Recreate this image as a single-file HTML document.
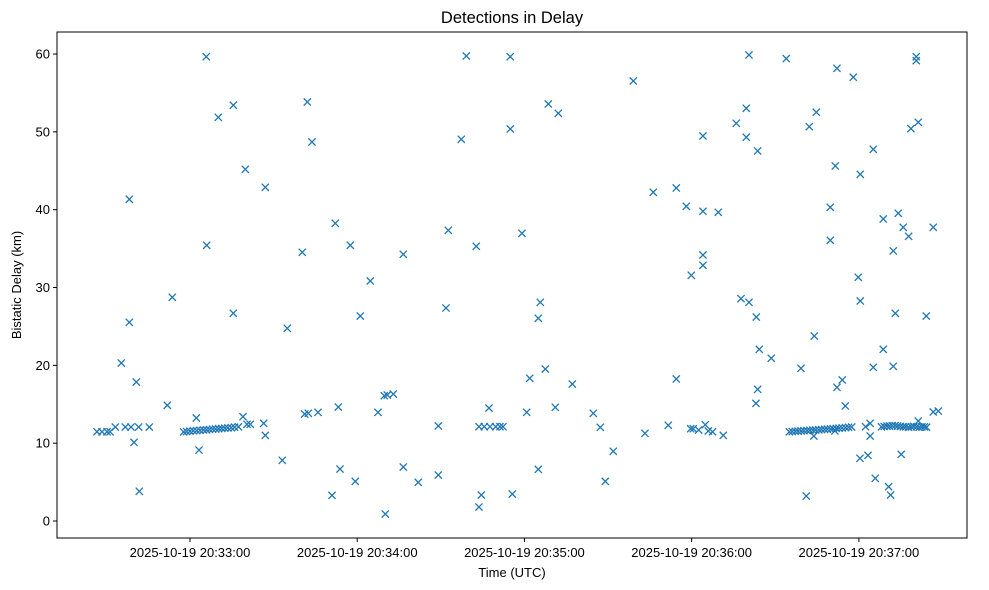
<!DOCTYPE html>
<html><head><meta charset="utf-8"><style>
body{margin:0;background:#fff;}
svg{display:block;font-family:"Liberation Sans","DejaVu Sans",sans-serif;}
</style></head><body>
<svg id="chart" width="989" height="590"></svg>
<script>
// seconds after 20:33:00 UTC
const times = [5.85,15.54,10.15,19.84,27.02,-21.78,5.99,-6.35,15.54,34.91,-21.78,-24.65,-19.27,-8.14,2.26,
-33.37,-31.57,-29.78,-28.7,-26.8,-23.21,-21.17,-18.41,-14.6,-20.09,3.23,-18.19,
-2.3,-1.2,0,1.2,2.4,3.6,4.8,5.9,7,8.1,9.2,10.3,11.4,12.5,13.6,14.8,16,17.4,
19.02,20.45,21.64,26.44,27.02,33.12,
42.09,43.77,99.14,114.92,97.34,114.92,52.13,40.29,57.52,76.53,64.69,61.1,92.68,102.72,119.12,91.85,
69.71,70.79,72.94,41.15,42.45,45.93,53.21,67.45,89.09,107.28,103.69,105.59,107.64,109.69,111.23,112.31,
120.81,121.9,53.82,59.31,50.95,76.53,81.91,89.09,70.07,104.52,103.69,115.64,
200.57,159.06,128.56,132.15,199.6,196.01,184.06,199.6,203.69,166.23,174.48,178.07,184.06,189.55,184.06,184.06,179.87,
125.69,124.97,197.7,200.57,203.19,204.27,127.48,137.17,174.48,131.07,144.71,147.22,151.88,124.97,149.01,163.25,171.61,
179.65,180.58,182.52,184.88,185.96,187.5,191.35,203.69,203.08,
213.95,232.14,237.99,260.59,260.59,224.72,222.2,258.69,261.31,245.17,231.54,240.5,229.74,248.75,254.13,255.92,257.86,266.69,
252.34,229.74,239.78,240.5,253.06,264.18,224.0,208.56,248.75,219.23,245.17,252.34,234.05,232.14,235.12,266.69,268.49,
215.05,216.1,217.2,218.2,219.3,220.3,221.4,222.4,223.5,224.5,225.6,226.6,227.7,228.7,229.8,230.8,231.9,232.9,234.0,235.2,236.3,237.42,
223.87,231.4,242.4,244.05,244.05,
248.1,249.1,250.1,251.0,252.0,253.0,253.9,254.9,255.9,256.8,257.8,258.8,259.7,260.7,261.7,262.6,263.5,264.3,
261.31,240.39,243.27,255.2,245.89,250.69,251.4,221.12];
// bistatic delay in km
const delays = [59.66,53.42,51.87,45.19,42.88,41.34,35.43,28.75,26.69,24.76,25.53,20.3,17.86,14.87,13.24,
11.47,11.47,11.47,11.47,12.08,12.08,12.08,12.08,12.08,10.11,9.12,3.82,
11.45,11.5,11.55,11.6,11.62,11.66,11.7,11.72,11.76,11.8,11.83,11.86,11.9,11.93,11.96,12.0,12.05,12.1,
13.4,12.43,12.43,12.55,11.01,7.8,
53.84,48.7,59.75,59.66,49.05,50.37,38.25,34.53,35.43,34.27,30.84,26.34,37.35,35.3,36.97,27.37,
16.1,16.19,16.32,13.75,13.84,13.97,14.65,13.97,12.21,14.52,12.12,12.12,12.12,12.12,12.12,12.12,
13.97,18.34,6.68,5.1,3.3,6.94,4.97,5.91,0.9,3.34,1.8,3.47,
59.88,56.54,53.58,52.39,53.03,51.1,49.47,49.31,47.55,42.24,42.79,40.44,39.8,39.67,34.18,32.86,31.57,
28.1,26.05,28.57,28.1,26.21,22.06,19.53,17.6,18.25,14.61,13.84,12.04,8.96,6.64,5.1,11.27,12.3,
11.86,11.86,11.69,12.37,11.57,11.47,11.01,16.92,15.12,
59.41,58.17,57.02,59.66,59.15,52.52,50.67,50.41,51.23,47.76,45.62,44.55,40.31,38.81,39.54,37.74,36.58,37.74,
34.7,36.07,31.32,28.27,26.69,26.34,23.77,20.91,22.06,19.62,19.75,19.88,18.12,17.18,14.78,14.01,14.13,
11.47,11.5,11.52,11.55,11.58,11.6,11.62,11.65,11.68,11.7,11.72,11.75,11.78,11.8,11.83,11.86,11.9,11.93,11.96,12.0,12.04,12.08,
10.92,11.57,12.12,12.55,10.92,
12.1,12.15,12.2,12.2,12.25,12.25,12.2,12.15,12.1,12.1,12.05,12.1,12.15,12.1,12.05,12.1,12.1,12.05,
12.85,8.06,8.44,8.57,5.49,4.41,3.34,3.21];
const yTicks = [0,10,20,30,40,50,60];
const xTicks = [0,60,120,180,240];
const xTickLabels = ["2025-10-19 20:33:00","2025-10-19 20:34:00","2025-10-19 20:35:00","2025-10-19 20:36:00","2025-10-19 20:37:00"];

const svg = document.getElementById('chart');
const NS = 'http://www.w3.org/2000/svg';
const L=57,R=967,T=32,B=538;
const xMin=-47.72,xMax=278.8,yMin=-2.18,yMax=62.83;
const xs = v => L + (v-xMin)/(xMax-xMin)*(R-L);
const ys = v => B - (v-yMin)/(yMax-yMin)*(B-T);
function mk(tag, attrs){const e=document.createElementNS(NS,tag);for(const k in attrs)e.setAttribute(k,attrs[k]);svg.appendChild(e);return e;}

const title = mk('text',{x:512,y:23,'text-anchor':'middle','font-size':'16.5'});
title.textContent='Detections in Delay';



const pts = mk('g',{});


for(let i=0;i<times.length;i++){
  const cx=xs(times[i]), cy=ys(delays[i]), r=3.6;
  const p=document.createElementNS(NS,'path');
  p.setAttribute('d',`M${cx-r},${cy-r}L${cx+r},${cy+r}M${cx-r},${cy+r}L${cx+r},${cy-r}`);
  p.setAttribute('stroke','#1f77b4');p.setAttribute('stroke-width','1.3');p.setAttribute('fill','none');
  
  
  pts.appendChild(p);
}

const frame = mk('rect',{x:L,y:T,width:R-L,height:B-T,fill:'none',stroke:'#000','stroke-width':'1'});



yTicks.forEach(v=>{
  const y=ys(v);
  const t=mk('line',{x1:L-4,x2:L,y1:y,y2:y,stroke:'#000','stroke-width':'1'});
  
  
  const lb=mk('text',{x:L-7,y:y+4.5,'text-anchor':'end','font-size':'13'});
  lb.textContent=v;
  
  
});
xTicks.forEach((v,i)=>{
  const x=xs(v);
  const t=mk('line',{x1:x,x2:x,y1:B,y2:B+4,stroke:'#000','stroke-width':'1'});
  
  
  const lb=mk('text',{x:x,y:B+19,'text-anchor':'middle','font-size':'13'});
  lb.textContent=xTickLabels[i];
  
  
});
const xl=mk('text',{x:512,y:577,'text-anchor':'middle','font-size':'13'});
xl.textContent='Time (UTC)';


const yl=mk('text',{x:0,y:0,'text-anchor':'middle','font-size':'13',transform:'translate(21,285) rotate(-90)'});
yl.textContent='Bistatic Delay (km)';


</script>
</body></html>
